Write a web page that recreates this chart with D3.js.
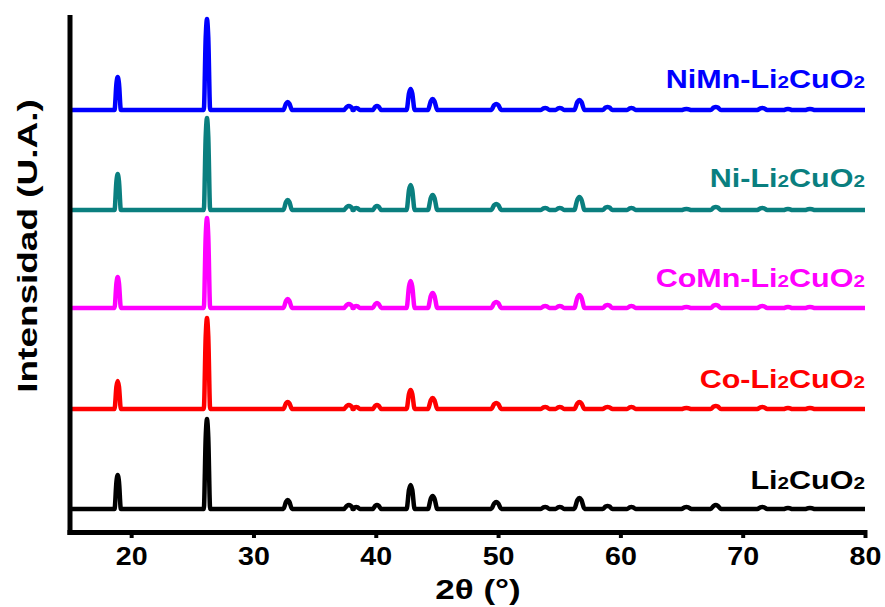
<!DOCTYPE html>
<html><head><meta charset="utf-8">
<script src="https://cdn.jsdelivr.net/npm/d3@7"></script>
<style>body{margin:0;background:#fff}svg{display:block}</style>
</head><body>
<svg id="c" width="885" height="607"></svg>
<script>
// --- data ---
const peakPos   = [18.9, 26.2, 32.8, 37.8, 38.4, 40.1, 42.85, 44.65, 49.85, 53.85, 55.05, 56.65, 58.95, 60.9, 65.4, 67.8, 71.6, 73.7, 75.5];
const peakWidth = [0.26, 0.26, 0.35, 0.4, 0.3, 0.35, 0.33, 0.38, 0.42, 0.35, 0.35, 0.42, 0.4, 0.35, 0.4, 0.42, 0.4, 0.35, 0.4];
const hLi2CuO2  = [34, 90, 9, 4, 2, 4, 24, 13, 7, 2, 2, 11, 3, 2, 2, 4, 2, 1, 1];
const hCo       = [28, 91, 7, 4, 2, 4, 19, 11, 6, 2, 2, 7, 2, 2, 1, 3, 2, 1, 1];
const hCoMn     = [31, 90, 9, 4, 2, 5, 27, 15, 6, 2, 2, 13, 3, 2, 1, 3, 2, 1, 1];
const hNi       = [36, 92, 10, 4, 2, 4, 25, 15, 6, 2, 2, 13, 3, 2, 1, 3, 2, 1, 1];
const hNiMn     = [33, 91, 8, 4, 2, 4, 21, 11, 6, 2, 2, 10, 3, 2, 1, 3, 2, 1, 1];
const seriesNames   = ["Li2CuO2", "Co-Li2CuO2", "CoMn-Li2CuO2", "Ni-Li2CuO2", "NiMn-Li2CuO2"];
const seriesOffsets = [0, 100, 201, 299, 399];
const seriesColors  = ["#000000", "#ff0000", "#ff00ff", "#0a7f7f", "#0000ff"];
const xTicks = [20, 30, 40, 50, 60, 70, 80];
const xMinor = [25, 35, 45, 55, 65, 75];
const xLabel = "2θ (°)";
const yLabel = "Intensidad (U.A.)";

const heights = [hLi2CuO2, hCo, hCoMn, hNi, hNiMn];

const svg = d3.select("#c");
const FONT = "'Liberation Sans', Arial, sans-serif";
const x = d3.scaleLinear().domain([15, 80]).range([70, 865]);
const y = d3.scaleLinear().domain([-23, 495]).range([532, 14]);

function pattern(h, off) {
  const pts = [[15, off]];
  peakPos.forEach((p, i) => {
    const w = peakWidth[i];
    pts.push([p - w, off], [p - w * 0.4, off + h[i] * 0.8], [p, off + h[i]], [p + w * 0.4, off + h[i] * 0.8], [p + w, off]);
  });
  pts.push([80, off]);
  return pts;
}

const line = d3.line().x(d => x(d[0])).y(d => y(d[1])).curve(d3.curveMonotoneX);

heights.forEach((h, i) => {
  svg.append("path")
    .attr("d", line(pattern(h, seriesOffsets[i])))
    .attr("fill", "none")
    .attr("stroke", seriesColors[i])
    .attr("stroke-width", 4.5)
    .attr("stroke-linejoin", "round")
    .attr("stroke-linecap", "butt");
});

// series labels (the reference font is wider than Liberation Sans, so stretch horizontally)
const labelBase = [489, 388, 287, 187, 88];
seriesNames.forEach((name, i) => {
  const t = svg.append("text")
    .attr("transform", `translate(865,${labelBase[i]}) scale(1.22,1)`)
    .attr("text-anchor", "end")
    .attr("font-family", FONT).attr("font-weight", "bold")
    .attr("font-size", 25).attr("fill", seriesColors[i]);
  name.split(/(2)/).forEach(p => {
    if (p === "") return;
    if (p === "2") t.append("tspan").attr("font-size", 17).text("2");
    else t.append("tspan").text(p);
  });
});

// axes
const xAxis = d3.axisBottom(x).tickValues(xTicks).tickSize(8).tickPadding(8).tickFormat(d3.format("d"));
const gx = svg.append("g").attr("transform", "translate(0,530)").call(xAxis);
gx.select(".domain").remove();
gx.selectAll(".tick line").attr("stroke", "#000").attr("stroke-width", 4);
gx.selectAll(".tick text").attr("font-family", FONT).attr("font-weight", "bold").attr("font-size", 26)
  .attr("fill", "#000").attr("dy", "0.72em").attr("transform", "scale(1.1,1)")
  .attr("x", function(d) { return 0; });
const gm = svg.append("g").attr("transform", "translate(0,530)")
  .call(d3.axisBottom(x).tickValues(xMinor).tickSize(5).tickFormat(""));
gm.select(".domain").remove();
gm.selectAll(".tick line").attr("stroke", "#000").attr("stroke-width", 4);

svg.append("line").attr("x1", 67.5).attr("x2", 867).attr("y1", 532.5).attr("y2", 532.5)
  .attr("stroke", "#000").attr("stroke-width", 5);
svg.append("line").attr("x1", 70).attr("x2", 70).attr("y1", 15).attr("y2", 535)
  .attr("stroke", "#000").attr("stroke-width", 5);

svg.append("text").attr("transform", "translate(478,599) scale(1.25,1)").attr("text-anchor", "middle")
  .attr("font-family", FONT).attr("font-weight", "bold").attr("font-size", 28).text(xLabel);
svg.append("text").attr("transform", "translate(37,246) rotate(-90) scale(1.32,1)").attr("text-anchor", "middle")
  .attr("font-family", FONT).attr("font-weight", "bold").attr("font-size", 28).text(yLabel);
</script>
</body></html>
